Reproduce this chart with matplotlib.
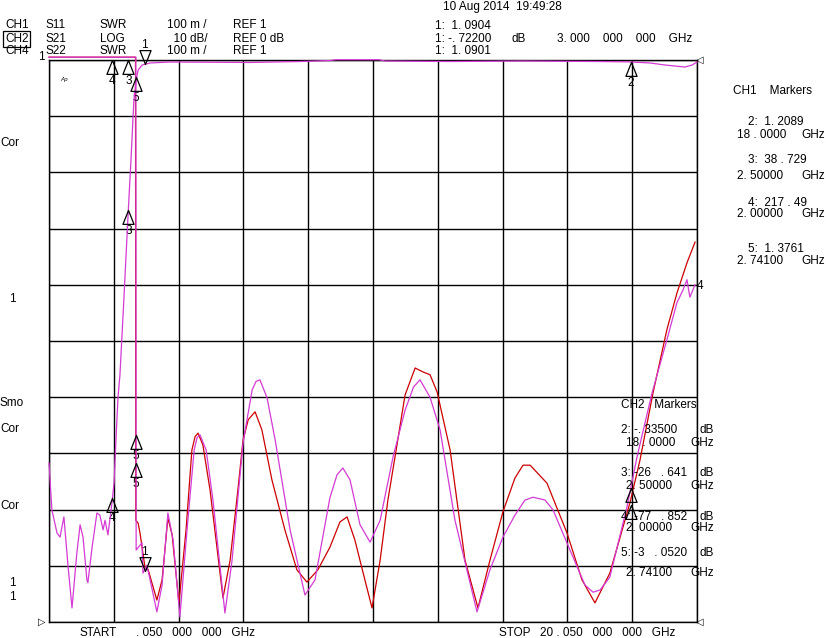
import numpy as np
import matplotlib
matplotlib.use("Agg")
from matplotlib import pyplot as plt
from matplotlib.path import Path

plt.rcParams["font.family"] = ["Liberation Sans", "DejaVu Sans"]

# S11 (CH1, SWR) - red
s11_freq = [0.05, 2.72, 2.73, 2.80, 2.86, 3.01, 3.11, 3.38, 3.54, 3.72, 3.85, 4.06, 4.28,
            4.46, 4.56, 4.65, 4.80, 5.02, 5.42, 5.64, 5.88, 6.04, 6.20, 6.41, 6.62, 6.93,
            7.33, 7.70, 8.01, 8.35, 8.72, 9.03, 9.25, 9.49, 9.80, 10.02, 10.27, 10.51,
            10.73, 11.04, 11.35, 11.59, 11.81, 12.03, 12.43, 12.89, 13.29, 13.66, 14.06,
            14.43, 14.68, 14.90, 15.42, 16.04, 16.50, 16.90, 17.36, 17.98, 18.29, 18.69,
            19.12, 19.43, 19.74, 19.99]
s11_swr = [2.005, 2.005, 1.181, 1.176, 1.158, 1.098, 1.093, 1.039, 1.075, 1.185, 1.155,
           1.034, 1.164, 1.306, 1.330, 1.336, 1.315, 1.235, 1.043, 1.110, 1.235, 1.324,
           1.360, 1.374, 1.342, 1.253, 1.164, 1.093, 1.071, 1.093, 1.133, 1.178, 1.187,
           1.146, 1.075, 1.025, 1.110, 1.217, 1.294, 1.404, 1.452, 1.445, 1.440, 1.409,
           1.306, 1.110, 1.025, 1.110, 1.196, 1.256, 1.279, 1.279, 1.247, 1.158, 1.075,
           1.034, 1.087, 1.212, 1.288, 1.407, 1.520, 1.585, 1.639, 1.676]

# S22 (CH4, SWR) - magenta
s22_freq = [0.05, 2.73, 2.74, 2.92, 2.95, 3.07, 3.17, 3.38, 3.54, 3.72, 3.88, 4.09, 4.31,
            4.53, 4.62, 4.71, 4.90, 5.11, 5.48, 5.70, 6.04, 6.32, 6.44, 6.56, 6.78, 7.03,
            7.49, 7.95, 8.26, 8.72, 8.94, 9.12, 9.34, 9.65, 9.96, 10.27, 10.67, 11.04,
            11.30, 11.50, 11.81, 12.12, 12.58, 13.26, 13.66, 14.06, 14.43, 14.74, 14.99,
            15.36, 15.61, 16.13, 16.59, 16.84, 17.06, 17.36, 17.89, 18.20, 18.66, 19.12,
            19.43, 19.62, 19.74, 19.83, 19.99]
s22_swr = [2.005, 2.005, 1.128, 1.141, 1.087, 1.101, 1.075, 1.018, 1.066, 1.194, 1.146,
           1.009, 1.164, 1.306, 1.328, 1.333, 1.306, 1.217, 1.016, 1.110, 1.319, 1.413,
           1.428, 1.431, 1.399, 1.324, 1.164, 1.048, 1.075, 1.221, 1.262, 1.274, 1.253,
           1.173, 1.142, 1.181, 1.294, 1.377, 1.418, 1.431, 1.400, 1.342, 1.181, 1.018,
           1.093, 1.151, 1.190, 1.217, 1.222, 1.217, 1.199, 1.128, 1.066, 1.053, 1.057,
           1.080, 1.205, 1.294, 1.407, 1.502, 1.568, 1.591, 1.609, 1.578, 1.600]

# S21 (CH2, LOG) - magenta
s21_freq = [0.05, 0.14, 0.30, 0.39, 0.51, 0.64, 0.76, 0.91, 1.01, 1.10, 1.22, 1.25, 1.38,
            1.53, 1.62, 1.72, 1.78, 1.87, 2.00, 2.06, 2.12, 2.18, 2.24, 2.36, 2.49, 2.58,
            2.67, 2.74, 2.80, 2.92, 3.17, 3.78, 6.25, 7.80, 8.72, 8.91, 10.24, 10.42,
            12.43, 14.59, 17.06, 17.98, 18.60, 19.06, 19.68, 19.90, 20.05]
s21_db = [-71.7, -80.1, -84.2, -84.9, -81.3, -90.2, -97.5, -87.7, -82.7, -84.9, -92.5,
          -93.0, -86.7, -80.6, -81.0, -83.6, -81.9, -84.5, -78.5, -75.1, -67.1, -60.0,
          -56.0, -42.7, -27.6, -17.8, -7.1, -3.6, -1.8, -0.9, -0.53, -0.36, -0.44, -0.27,
          -0.09, 0.05, 0.05, -0.18, -0.27, -0.18, -0.27, -0.34, -0.53, -0.89, -1.25,
          -0.89, -0.36]

# markers as shown on screen
s21_mk_freq = [3.0, 18.0, 2.5, 2.0, 2.741]
s21_mk_db = [-0.722, -0.335, -26.641, -77.852, -3.052]
s21_mk_name = ["1", "2", "3", "4", "5"]
swr_mk_freq = [3.0, 2.0, 2.5, 2.741, 2.741, 18.0, 18.0]
swr_mk_val = [1.0904, 2.0, 2.0, 1.333, 1.283, 1.238, 1.2089]
swr_mk_name = ["1", "4", "3", "5", "5", "", ""]

RED = "#cc0000"
MAG = "#d43ad4"
W, H = 826, 638

fig = plt.figure(figsize=(W / 100, H / 100), dpi=100)
ax = fig.add_axes([49 / W, 1 - 622 / H, (697 - 49) / W, (622 - 60) / H])
ax.set_xlim(0.05, 20.05)
ax.set_ylim(1.0, 2.0)
ax.set_xticks(np.arange(0.05, 20.06, 2.0))
ax.set_yticks(np.linspace(1.0, 2.0, 11))
ax.grid(True, color="black", lw=1.0)
ax.tick_params(length=0, labelbottom=False, labelleft=False)
for s in ax.spines.values():
    s.set_color("black")
    s.set_linewidth(1.0)

ax2 = ax.twinx()
ax2.set_ylim(-100, 0)
ax2.set_yticks([])
for s in ax2.spines.values():
    s.set_visible(False)

ax.plot(s11_freq, s11_swr, color=RED, lw=0.9, clip_on=False, zorder=3)
ax.plot(s22_freq, s22_swr, color=MAG, lw=0.9, clip_on=False, zorder=4)
ax2.plot(s21_freq, s21_db, color=MAG, lw=0.9, clip_on=False, zorder=4)

up = Path([(0, 0), (-0.4, -1), (0.4, -1), (0, 0)], closed=True)
down = Path([(0, 0), (-0.4, 1), (0.4, 1), (0, 0)], closed=True)


def draw_markers(axis, freqs, vals, names):
    for f, v, n in zip(freqs, vals, names):
        m = down if n == "1" else up
        dy = 14 if n == "1" else -15
        axis.plot([f], [v], marker=m, ms=20, mfc="none", mec="black", mew=0.9,
                  ls="none", clip_on=False, zorder=6)
        if n:
            axis.annotate(n, (f, v), xytext=(0, dy), textcoords="offset points",
                          ha="center", va="center", fontsize=8.5, annotation_clip=False)


draw_markers(ax2, s21_mk_freq, s21_mk_db, s21_mk_name)
draw_markers(ax, swr_mk_freq, swr_mk_val, swr_mk_name)


def put(x, y, s, **kw):
    kw.setdefault("fontsize", 8.5)
    fig.text(x / W, 1 - y / H, s, va="center", ha="left", **kw)


# header
put(443, 7, "10 Aug 2014  19:49:28")
for y, row in [(25, ["CH1", "S11", "SWR", "100 m /", "REF 1"]),
               (39, ["CH2", "S21", "LOG", "  10 dB/", "REF 0 dB"]),
               (51, ["CH4", "S22", "SWR", "100 m /", "REF 1"])]:
    for x, s in zip([5, 46, 100, 167, 233], row):
        if s == "CH2":
            put(x, y, s, bbox=dict(boxstyle="square,pad=0.15", fc="none", ec="black", lw=0.9))
        else:
            put(x, y, s)
put(435, 26, "1:  1. 0904")
put(435, 39, "1: -. 72200")
put(512, 39, "dB")
put(557, 39, "3. 000    000    000    GHz")
put(435, 51, "1:  1. 0901")

# left labels
put(38, 57, "1")
for y, s in [(143, "Cor"), (403, "Smo"), (429, "Cor"), (506, "Cor")]:
    put(0, y, s)
for y in [299, 583, 597]:
    put(9, y, "1")
put(60, 79, "Ap", fontsize=4.5, style="italic")
put(38, 622, "\u25b7", fontsize=7)
put(696, 622, "\u25c1", fontsize=7)
put(696, 60, "\u25c1", fontsize=7)
put(697, 286, "4")

# bottom
put(80, 633, "START")
put(136, 633, ". 050   000   000   GHz")
put(499, 633, "STOP   20 . 050   000   000   GHz")

# CH1 marker panel
put(733, 91, "CH1    Markers")
for y, s in [(122, "2:  1. 2089"), (160, "3:  38 . 729"), (203, "4:  217 . 49"), (249, "5:  1. 3761")]:
    put(748, y, s)
for y, s in [(135, "18 . 0000"), (176, "2. 50000"), (214, "2. 00000"), (261, "2. 74100")]:
    put(737, y, s)
    put(801, y, "GHz")

# CH2 marker panel
put(621, 405, "CH2   Markers")
for y, s in [(430, "2: -. 33500"), (473, "3: -26   . 641"), (517, "4: -77   . 852"), (553, "5: -3   . 0520")]:
    put(621, y, s)
    put(699, y, "dB")
for y, s in [(443, "18 . 0000"), (486, "2. 50000"), (528, "2. 00000"), (573, "2. 74100")]:
    put(626, y, s)
    put(690, y, "GHz")

fig.savefig("out.png", dpi=100)
